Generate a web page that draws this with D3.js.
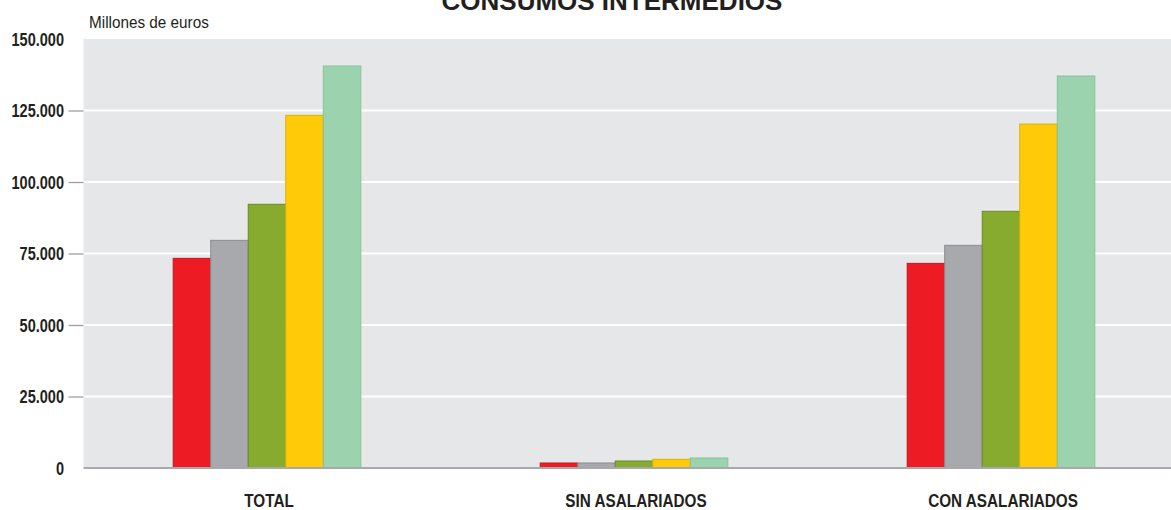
<!DOCTYPE html>
<html>
<head>
<meta charset="utf-8">
<script src="https://cdn.jsdelivr.net/npm/d3@7"></script>
<style>
  body { margin: 0; background: #fff; }
  svg { display: block; }
</style>
</head>
<body>
<div id="chart"></div>
<script>
// datos (millones de euros)
const categories = ["TOTAL", "SIN ASALARIADOS", "CON ASALARIADOS"];
const seriesNames = ["s1", "s2", "s3", "s4", "s5"];
const serie1 = [73300, 1750, 71550];
const serie2 = [79600, 1750, 77850];
const serie3 = [92200, 2450, 89750];
const serie4 = [123300, 3050, 120250];
const serie5 = [140550, 3500, 137050];
const yTicks = [0, 25000, 50000, 75000, 100000, 125000, 150000];
const fills = ["#ed1c24", "#a7a9ac", "#87ab2f", "#ffcb08", "#9ad3ae"];
const strokes = ["#c4161c", "#8a8c8f", "#6b8a22", "#e0b000", "#86c29b"];

const allSeries = [serie1, serie2, serie3, serie4, serie5];
const data = categories.map((c, i) => ({
    cat: c,
    values: seriesNames.map((s, j) => ({key: s, idx: j, value: allSeries[j][i]}))
}));

const W = 1171, H = 510;
const plot = {left: 83.5, right: 1184.5, top: 39, bottom: 468};
const fontNarrow = "'Liberation Sans', Arial, sans-serif"; // se estrecha con scale()

const svg = d3.select("#chart").append("svg")
    .attr("width", W)
    .attr("height", H);

const x0 = d3.scaleBand().domain(categories).range([plot.left, plot.right]).padding(0);
const x1 = d3.scaleBand().domain(seriesNames).range([0, x0.bandwidth()])
    .paddingInner(0).paddingOuter(2.39);
const y = d3.scaleLinear().domain([0, 150000]).range([plot.bottom, plot.top]);

// fondo del área de trazado
svg.append("rect")
    .attr("x", plot.left)
    .attr("y", plot.top)
    .attr("width", plot.right - plot.left)
    .attr("height", plot.bottom - plot.top)
    .attr("fill", "#e6e7e9");

// líneas de rejilla
svg.append("g")
    .selectAll("line")
    .data(yTicks.filter(d => d > 0 && d < 150000))
    .join("line")
    .attr("x1", plot.left)
    .attr("x2", plot.right)
    .attr("y1", d => y(d))
    .attr("y2", d => y(d))
    .attr("stroke", "#ffffff")
    .attr("stroke-width", 2);

// eje Y
const fmt = d => d === 0 ? "0" : d3.format(",")(d).replace(/,/g, ".");
const sxTick = 0.83;
const yAxis = svg.append("g")
    .attr("transform", `translate(${plot.left},0)`)
    .call(d3.axisLeft(y).tickValues(yTicks).tickFormat(fmt).tickSize(15).tickPadding(4));
yAxis.select(".domain").remove();
yAxis.selectAll(".tick line")
    .attr("stroke", "#9d9fa2")
    .attr("stroke-width", 1.3)
    .attr("display", d => d === 0 || d === 150000 ? "none" : null);
yAxis.selectAll(".tick text")
    .attr("x", -19.5 / sxTick)
    .attr("dy", "0.36em")
    .attr("transform", `scale(${sxTick},1)`)
    .style("font-family", fontNarrow)
    .style("font-size", "17.5px")
    .style("font-weight", "bold")
    .attr("fill", "#231f20");

// barras
const groups = svg.append("g")
    .selectAll("g")
    .data(data)
    .join("g")
    .attr("transform", d => `translate(${x0(d.cat)},0)`);

groups.selectAll("rect")
    .data(d => d.values)
    .join("rect")
    .attr("x", d => x1(d.key))
    .attr("y", d => y(d.value))
    .attr("width", x1.bandwidth())
    .attr("height", d => y(0) - y(d.value))
    .attr("fill", d => fills[d.idx])
    .attr("stroke", d => strokes[d.idx])
    .attr("stroke-width", 1);

// línea base
svg.append("line")
    .attr("x1", plot.left)
    .attr("x2", plot.right)
    .attr("y1", y(0))
    .attr("y2", y(0))
    .attr("stroke", "#a7a9ac")
    .attr("stroke-width", 2);

// etiquetas de categoría
svg.append("g")
    .selectAll("text")
    .data(categories)
    .join("text")
    .attr("transform", d => `translate(${x0(d) + x0.bandwidth() / 2 + 2},507) scale(0.85,1)`)
    .attr("text-anchor", "middle")
    .style("font-family", fontNarrow)
    .style("font-size", "18px")
    .style("font-weight", "bold")
    .attr("fill", "#231f20")
    .text(d => d);

// título (cortado arriba, como en el original)
svg.append("text")
    .attr("x", 612)
    .attr("y", 10)
    .attr("text-anchor", "middle")
    .style("font-family", "'Liberation Sans', Arial, sans-serif")
    .style("font-size", "26px")
    .style("font-weight", "bold")
    .attr("fill", "#231f20")
    .text("CONSUMOS INTERMEDIOS");

svg.append("text")
    .attr("transform", "translate(89,28) scale(0.9,1)")
    .style("font-family", fontNarrow)
    .style("font-size", "17px")
    .attr("fill", "#231f20")
    .text("Millones de euros");
</script>
</body>
</html>
